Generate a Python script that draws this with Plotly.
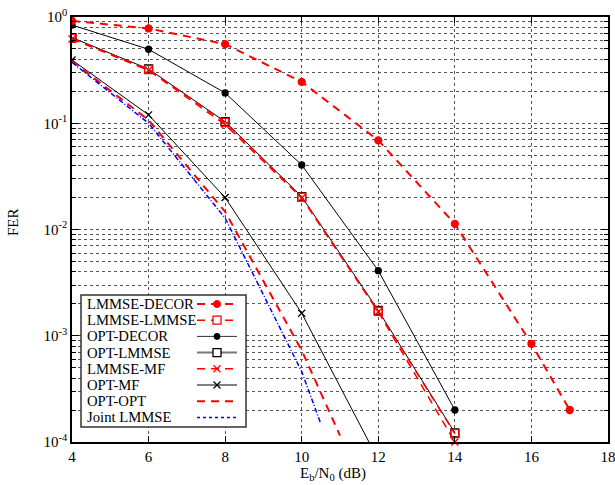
import plotly.graph_objects as go

# ---------------- data ----------------
x_lmmse_decor = [4, 6, 8, 10, 12, 14, 16, 17]
y_lmmse_decor = [0.92, 0.78, 0.555, 0.245, 0.069, 0.0113, 8.4e-4, 2.0e-4]

x_std = [4, 6, 8, 10, 12, 14]
y_opt_decor = [0.84, 0.497, 0.193, 0.0405, 0.0041, 2.0e-4]
y_opt_lmmse = [0.64, 0.324, 0.1035, 0.0204, 1.73e-3, 1.22e-4]
y_lmmse_lmmse = [0.63, 0.32, 0.102, 0.0202, 1.7e-3, 1.2e-4]
y_lmmse_mf = [0.62, 0.315, 0.097, 0.0198, 1.68e-3, 1.0e-4]

x_opt_mf = [4, 6, 8, 10, 12]
y_opt_mf = [0.394, 0.12, 0.02, 1.63e-3, 6.8e-5]

x_opt_opt = [4, 6, 8, 10, 11]
y_opt_opt = [0.385, 0.107, 0.0147, 7.3e-4, 1.15e-4]

x_joint = [4, 6, 8, 10, 10.5]
y_joint = [0.375, 0.1, 0.0128, 4.6e-4, 1.48e-4]

x_ticks = [4, 6, 8, 10, 12, 14, 16, 18]
y_ticks = [1, 0.1, 0.01, 0.001, 0.0001]
y_ticktext = ["10<sup>0</sup>", "10<sup>-1</sup>", "10<sup>-2</sup>", "10<sup>-3</sup>", "10<sup>-4</sup>"]
y_minor = [m * 10 ** e for e in (-4, -3, -2, -1) for m in range(2, 10)]

legend_names = ["LMMSE-DECOR", "LMMSE-LMMSE", "OPT-DECOR", "OPT-LMMSE",
                "LMMSE-MF", "OPT-MF", "OPT-OPT", "Joint LMMSE"]

RED = "#ff0000"
BLUE = "#0000ff"
BLK = "#000000"
FONT = "Liberation Serif"

styles = {
    "LMMSE-DECOR": (RED, 2, "8px,6px", "circle", 7, RED),
    "LMMSE-LMMSE": (RED, 1.5, "8px,6px", "square-open", 8, RED),
    "OPT-DECOR": (BLK, 1, "solid", "circle", 6, BLK),
    "OPT-LMMSE": (BLK, 1, "solid", "square-open", 8, BLK),
    "LMMSE-MF": (RED, 1.5, "8px,6px", "x-thin-open", 7, RED),
    "OPT-MF": (BLK, 1, "solid", "x-thin-open", 7, BLK),
    "OPT-OPT": (RED, 2, "8px,6px", None, 0, RED),
    "Joint LMMSE": (BLUE, 1.5, "5px,2px,1px,2px", None, 0, BLUE),
}

series = {
    "OPT-DECOR": (x_std, y_opt_decor),
    "OPT-LMMSE": (x_std, y_opt_lmmse),
    "OPT-MF": (x_opt_mf, y_opt_mf),
    "LMMSE-LMMSE": (x_std, y_lmmse_lmmse),
    "LMMSE-MF": (x_std, y_lmmse_mf),
    "LMMSE-DECOR": (x_lmmse_decor, y_lmmse_decor),
    "OPT-OPT": (x_opt_opt, y_opt_opt),
    "Joint LMMSE": (x_joint, y_joint),
}

fig = go.Figure()

for name, (xs, ys) in series.items():
    col, w, dash, sym, ms, mcol = styles[name]
    kw = dict(x=xs, y=ys, name=name, showlegend=False,
              line=dict(color=col, width=w, dash=dash))
    if sym:
        kw["mode"] = "lines+markers"
        kw["marker"] = dict(symbol=sym, size=ms, color=mcol,
                            line=dict(color=mcol, width=1.3))
    else:
        kw["mode"] = "lines"
    if name == "LMMSE-MF":
        kw["cliponaxis"] = False
    fig.add_trace(go.Scatter(**kw))

# ---------------- custom legend (text left, key right) ----------------
PX_L, PX_R, PX_T, PX_B = 72, 608, 17, 442


def px(v):
    return (v - PX_L) / (PX_R - PX_L)


def py(v):
    return (PX_B - v) / (PX_B - PX_T)


box = dict(x0=81, x1=246, y0=295, y1=427)
row0, drow = 304, 16.2
key_x0, key_x1 = 197, 237
kx = (key_x0 + key_x1) / 2

shapes = [dict(type="rect", xref="paper", yref="paper", x0=px(box["x0"]), x1=px(box["x1"]),
               y0=py(box["y0"]), y1=py(box["y1"]), line=dict(color="#333333", width=1.5),
               fillcolor="white", layer="above")]
annotations = []
for i, name in enumerate(legend_names):
    col, w, dash, sym, ms, mcol = styles[name]
    yy = row0 + drow * i
    annotations.append(dict(x=px(85), y=py(yy), xref="paper", yref="paper", text=name,
                            showarrow=False, xanchor="left", yanchor="middle",
                            font=dict(family=FONT, size=14.7, color="black")))
    lcol = "#777777" if name == "OPT-LMMSE" else ("#333333" if name == "OPT-DECOR" else col)
    lw = 2 if name == "OPT-LMMSE" else w
    d = "dot" if name == "Joint LMMSE" else dash
    shapes.append(dict(type="line", xref="paper", yref="paper", x0=px(key_x0), x1=px(key_x1),
                       y0=py(yy), y1=py(yy), line=dict(color=lcol, width=lw, dash=d),
                       layer="above"))
    h = ms / 2
    if sym == "circle":
        shapes.append(dict(type="circle", xref="paper", yref="paper",
                           x0=px(kx - h), x1=px(kx + h), y0=py(yy + h), y1=py(yy - h),
                           fillcolor=mcol, line=dict(color=mcol, width=1), layer="above"))
    elif sym == "square-open":
        shapes.append(dict(type="rect", xref="paper", yref="paper",
                           x0=px(kx - h), x1=px(kx + h), y0=py(yy + h), y1=py(yy - h),
                           fillcolor="white", line=dict(color=mcol, width=1.3), layer="above"))
    elif sym == "x-thin-open":
        for s in (1, -1):
            shapes.append(dict(type="line", xref="paper", yref="paper",
                               x0=px(kx - h), x1=px(kx + h), y0=py(yy - s * h), y1=py(yy + s * h),
                               line=dict(color=mcol, width=1.3), layer="above"))

# axis titles
annotations.append(dict(x=px(333), y=py(474), xref="paper", yref="paper",
                        text="E<sub>b</sub>/N<sub>0</sub> (dB)", showarrow=False,
                        xanchor="center", yanchor="middle",
                        font=dict(family=FONT, size=15, color="black")))
annotations.append(dict(x=px(13), y=py(222), xref="paper", yref="paper", text="FER",
                        textangle=-90, showarrow=False, xanchor="center", yanchor="middle",
                        font=dict(family=FONT, size=15, color="black")))

grid = dict(gridcolor="#555555", griddash="dot", gridwidth=1)

fig.update_layout(
    width=615, height=485,
    margin=dict(l=PX_L, r=615 - PX_R, t=PX_T, b=485 - PX_B),
    paper_bgcolor="white", plot_bgcolor="white",
    font=dict(family=FONT, size=15, color="black"),
    shapes=shapes, annotations=annotations,
    xaxis=dict(range=[4, 18], tickvals=x_ticks, showgrid=True, **grid,
               ticks="inside", ticklen=6, tickcolor="black", mirror="allticks",
               showline=True, linecolor="black", linewidth=1.5, zeroline=False,
               automargin=False, ticklabeloverflow="allow",
               tickfont=dict(family=FONT, size=15)),
    yaxis=dict(type="log", range=[-4, 0], tickvals=y_ticks, ticktext=y_ticktext,
               showgrid=True, **grid,
               ticks="inside", ticklen=7, tickcolor="black", mirror="allticks",
               showline=True, linecolor="black", linewidth=1.5, zeroline=False,
               automargin=False, tickfont=dict(family=FONT, size=15),
               minor=dict(tickvals=y_minor, showgrid=True, gridcolor="#555555",
                          griddash="dot", gridwidth=1, ticks="inside", ticklen=4,
                          tickcolor="black")),
)

fig.write_html("out.html", config={"displayModeBar": False},
               post_script="document.body.style.margin='0';document.body.style.padding='0';"
                           "document.body.style.overflow='hidden';")
